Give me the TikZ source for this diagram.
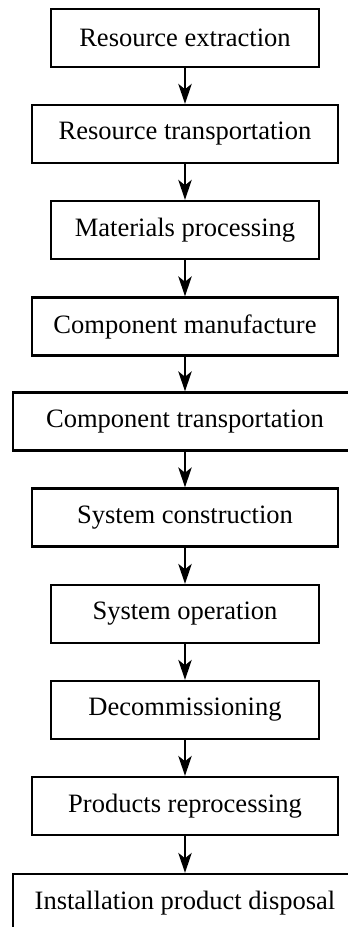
\documentclass[tikz,border=0pt]{standalone}
\usepackage{fontspec}
\setmainfont{Liberation Serif}
\usetikzlibrary{arrows.meta,positioning}

\begin{document}
\begin{tikzpicture}[x=0.75pt,y=-0.75pt,
  stage/.style={draw,line width=1.6pt,minimum width=#1,minimum height=43.5pt,
    inner sep=0pt,font=\fontsize{19.9}{24}\selectfont},
  >={Stealth[length=15pt,width=10pt,inset=4pt]}]
  \useasboundingbox (0,0) rectangle (347,927);
  % life cycle stages, top to bottom
  \node [stage=201pt,name=extract] at (185,38) {Resource extraction};
  \node [stage=229pt,name=rtrans] at (185,134) {Resource transportation};
  \node [stage=201pt,name=matproc] at (185,230) {Materials processing};
  \node [stage=229pt,name=compman] at (185,326.5) {Component manufacture};
  \node [stage=258pt,name=ctrans] at (185,421.5) {Component transportation};
  \node [stage=229pt,name=constr] at (185,517.5) {System construction};
  \node [stage=201pt,name=oper] at (185,614) {System operation};
  \node [stage=201pt,name=decomm] at (185,710) {Decommissioning};
  \node [stage=229pt,name=reproc] at (185,806) {Products reprocessing};
  \node [stage=258pt,name=dispose] at (185,903) {Installation product disposal};
  \draw [line width=1.6pt,->] (extract) -- (rtrans);
  \draw [line width=1.6pt,->] (rtrans) -- (matproc);
  \draw [line width=1.6pt,->] (matproc) -- (compman);
  \draw [line width=1.6pt,->] (compman) -- (ctrans);
  \draw [line width=1.6pt,->] (ctrans) -- (constr);
  \draw [line width=1.6pt,->] (constr) -- (oper);
  \draw [line width=1.6pt,->] (oper) -- (decomm);
  \draw [line width=1.6pt,->] (decomm) -- (reproc);
  \draw [line width=1.6pt,->] (reproc) -- (dispose);
\end{tikzpicture}
\end{document}
